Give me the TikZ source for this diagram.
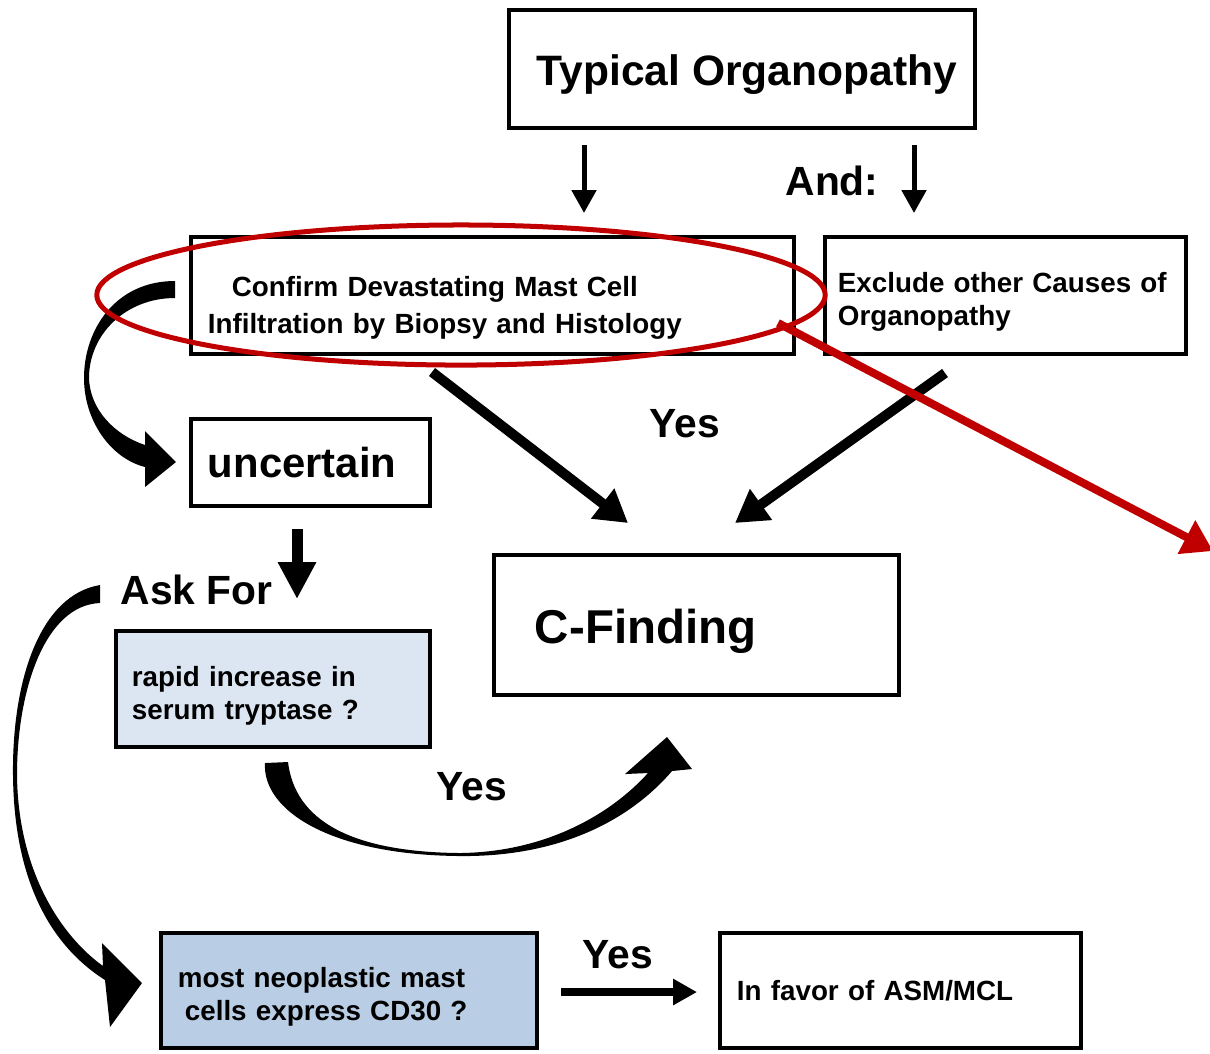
\documentclass[tikz,border=0pt]{standalone}
\usepackage{fontspec}
\setmainfont{Liberation Sans}
\usepackage{xcolor}
\usetikzlibrary{arrows.meta, calc}
\definecolor{ringred}{HTML}{C00000}
\definecolor{paleblue}{HTML}{DCE6F2}
\definecolor{midblue}{HTML}{B9CDE5}
\tikzset{box/.style={draw, line width=1.15pt, align=left, inner ysep=0pt, font=\bfseries\fontsize{7.9}{9.4}\selectfont},
  bigtxt/.style={inner sep=0pt, font=\bfseries\fontsize{11.6}{13}\selectfont},
  thinarr/.style={line width=0.05cm, -{Triangle[width=0.24cm,length=0.23cm]}},
  fatarr/.style={line width=0.1cm, -{Triangle[width=0.36cm,length=0.32cm]}},
  redarr/.style={ringred, line width=0.08cm, -{Triangle[width=0.36cm,length=0.3cm]}}}

\begin{document}
\begin{tikzpicture}[x=0.01cm, y=-0.01cm]
                 \useasboundingbox (0,0) rectangle (1210,1053);

                 \node[box, align=center, minimum width=4.66cm, minimum height=1.18cm, text height=0.42cm, text depth=0.1cm, font=\bfseries\fontsize{12.1}{13}\selectfont] (typical) at (742,69) {\hspace*{0.1cm}Typical Organopathy};
                 \node[box, text width=5.69cm, inner xsep=0.17cm, minimum height=1.17cm] (confirm) at (492.5,295.5) {\rule{0pt}{0.45cm}\hspace*{0.24cm}Confirm Devastating Mast Cell\\[0.04cm]Infiltration by Biopsy and Histology};
                 \node[box, text width=3.35cm, inner xsep=0.13cm, minimum height=1.17cm] (exclude) at (1005.5,295.5) {\rule{0pt}{0.32cm}Exclude other Causes of\\Organopathy};
                 \node[box, text width=2.05cm, inner xsep=0.17cm, minimum height=0.87cm, font=\bfseries\fontsize{11.9}{13}\selectfont] (uncertain) at (310.5,462.5) {uncertain};
                 \node[box, text width=3.23cm, inner xsep=0.41cm, minimum height=1.40cm, text height=0.36cm, text depth=0pt, font=\bfseries\fontsize{13.5}{15}\selectfont] (cfind) at (696.5,625) {C-Finding};
                 \node[box, fill=paleblue, text width=2.82cm, inner xsep=0.16cm, minimum height=1.16cm] (tryptase) at (273,689) {\rule{0pt}{0.33cm}rapid increase in\\serum tryptase ?};
                 \node[box, fill=midblue, text width=3.42cm, inner xsep=0.17cm, minimum height=1.15cm] (cd30) at (349,990.5) {\rule{0pt}{0.33cm}most neoplastic mast\\\hspace*{0.07cm}cells express CD30 ?};
                 \node[box, text width=3.27cm, inner xsep=0.17cm, minimum height=1.15cm] (favor) at (900.5,990.5) {In favor of ASM/MCL};

                 \node[bigtxt] (andlbl) at (832,181) {And:};
                 \node[bigtxt] (yesmid) at (685,424) {Yes};
                 \node[bigtxt] (yeslow) at (472,787) {Yes};
                 \node[bigtxt] (yesright) at (618,955) {Yes};
                 \node[bigtxt, anchor=west] (askfor) at (120,590) {Ask For};

                 \coordinate (d1a) at (584,145);
                 \coordinate (d1b) at (584,213);
                 \coordinate (d2a) at (914,145);
                 \coordinate (d2b) at (914,213);
                 \coordinate (s1a) at (432,372);
                 \coordinate (s1b) at (628,523);
                 \coordinate (s2a) at (945,373);
                 \coordinate (s2b) at (735,523);
                 \coordinate (u1a) at (297,529);
                 \coordinate (u1b) at (297,599);
                 \coordinate (h1a) at (561,992);
                 \coordinate (h1b) at (697,992);
                 \coordinate (r1a) at (778,323);
                 \coordinate (r1b) at (1213,551);

                 \draw[thinarr] (d1a) -- (d1b);
                 \draw[thinarr] (d2a) -- (d2b);
                 \draw[fatarr] (s1a) -- (s1b);
                 \draw[fatarr] (s2a) -- (s2b);
                 \draw[fatarr, line width=0.11cm, -{Triangle[width=0.36cm,length=0.37cm]}] (u1a) -- (u1b);
                 \draw[line width=0.075cm, -{Triangle[width=0.25cm,length=0.24cm]}] (h1a) -- (h1b);

                 % tapered curved arrows
                 \fill (175,281) .. controls (115,281) and (84,330) .. (84,378) .. controls (84,420) and (110,458) .. (145,467)
                       -- (145,487) -- (176,462) -- (145,431) -- (145,445)
                       .. controls (115,435) and (90,410) .. (89,378) .. controls (89,335) and (125,298) .. (175,298) -- cycle;
                 \fill (100,585) .. controls (40,595) and (12,680) .. (13,775) .. controls (14,880) and (50,945) .. (105,980)
                       -- (110,1027) -- (142,983) -- (102,943) -- (103,966)
                       .. controls (60,935) and (18,870) .. (17,775) .. controls (17,690) and (45,605) .. (100,603) -- cycle;
                 \fill (265,763) .. controls (262,810) and (330,855) .. (460,856) .. controls (560,857) and (630,820) .. (672,771)
                       -- (692,769) -- (667,737) -- (625,774) -- (648,773)
                       .. controls (610,815) and (545,852) .. (460,853) .. controls (350,852) and (295,820) .. (288,762) -- cycle;

                 \draw[ringred, line width=0.05cm] (461,295) ellipse [x radius=3.64cm, y radius=0.70cm];
                 \draw[redarr] (r1a) -- (r1b);
\end{tikzpicture}
\end{document}
